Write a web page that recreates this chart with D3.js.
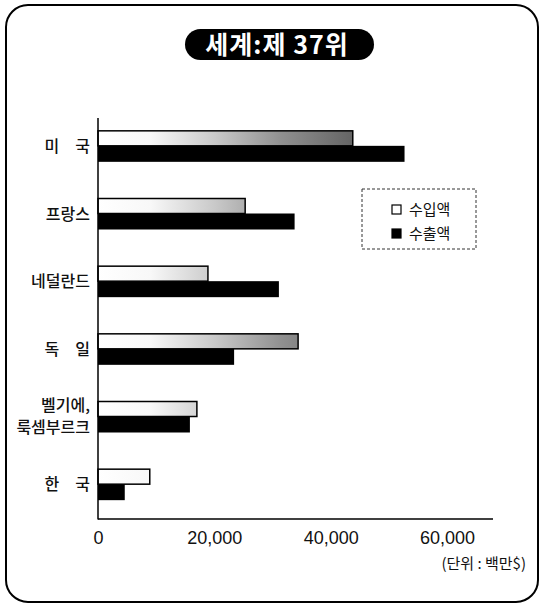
<!DOCTYPE html>
<html>
<head>
<meta charset="utf-8">
<script src="https://cdn.jsdelivr.net/npm/d3@7"></script>
<style>
  body { margin: 0; background: #fff; }
  svg { display: block; }
</style>
</head>
<body>
<svg id="chart" width="543" height="607"></svg>
<script>
// data (unit: million $)
const countries = ["미국", "프랑스", "네덜란드", "독일", "벨기에,룩셈부르크", "한국"];
const imports = [43800, 25300, 18900, 34400, 17000, 8900];   // 수입액
const exports = [52700, 33800, 31100, 23400, 15800, 4600];   // 수출액
const xTicks = [0, 20000, 40000, 60000];

const krFont = "'Noto Sans CJK KR', 'Noto Sans', sans-serif";
const numFont = "'Liberation Sans', Arial, sans-serif";

const svg = d3.select("#chart");

// gradient that mimics the speckled grey of the import bars
const defs = svg.append("defs");
const grad = defs.append("linearGradient")
  .attr("id", "importFill")
  .attr("gradientUnits", "userSpaceOnUse")
  .attr("x1", 98).attr("x2", 360).attr("y1", 0).attr("y2", 0);
[[0, "#ffffff"], [0.2, "#f8f8f8"], [0.45, "#c8c8c8"], [0.7, "#909090"], [1, "#606060"]]
  .forEach(([o, c]) => grad.append("stop").attr("offset", o).attr("stop-color", c));

// outer frame
svg.append("rect")
  .attr("x", 6).attr("y", 5).attr("width", 532).attr("height", 597)
  .attr("rx", 22).attr("ry", 22)
  .attr("fill", "none").attr("stroke", "#000").attr("stroke-width", 2);

// title pill
svg.append("rect")
  .attr("x", 185).attr("y", 29).attr("width", 189).attr("height", 31)
  .attr("rx", 15.5).attr("fill", "#000");
svg.append("text")
  .attr("x", 277).attr("y", 54)
  .attr("text-anchor", "middle")
  .attr("fill", "#fff")
  .style("font-family", krFont)
  .style("font-size", "25px")
  .style("font-weight", "bold")
  .style("letter-spacing", "1px")
  .text("세계:제 37위");

// scales
const x = d3.scaleLinear().domain([0, 60000]).range([98, 447]);
const y = d3.scaleBand().domain(countries).range([112, 518]).padding(0);
const barH = 15;

// bars
const rows = svg.append("g").selectAll("g")
  .data(countries.map((c, i) => ({ c, imp: imports[i], exp: exports[i] })))
  .join("g")
  .attr("transform", d => `translate(0,${y(d.c) + y.bandwidth() / 2 - barH})`);

rows.append("rect")
  .attr("x", x(0)).attr("y", 0)
  .attr("width", d => x(d.imp) - x(0)).attr("height", barH)
  .attr("fill", "url(#importFill)")
  .attr("stroke", "#000").attr("stroke-width", 1.5);

rows.append("rect")
  .attr("x", x(0)).attr("y", barH)
  .attr("width", d => x(d.exp) - x(0)).attr("height", barH + 1)
  .attr("fill", "#000");

// category labels
const labels = svg.append("g")
  .style("font-family", krFont)
  .style("font-size", "16px")
  .style("font-weight", "500")
  .attr("fill", "#111");

rows.each(function (d) {
  const cy = y(d.c) + y.bandwidth() / 2;
  if (d.c.includes(",")) {
    const [a, b] = d.c.split(",");
    labels.append("text").attr("x", 90).attr("y", cy - 6)
      .attr("text-anchor", "end").text(a + ",");
    labels.append("text").attr("x", 90).attr("y", cy + 16)
      .attr("text-anchor", "end").text(b);
  } else if (d.c.length === 2) {
    // two-syllable names are spread to the width of three
    labels.append("text").attr("x", 90).attr("y", cy + 6)
      .attr("text-anchor", "end").text(d.c[0] + "\u3000" + d.c[1]);
  } else {
    labels.append("text").attr("x", 90).attr("y", cy + 6)
      .attr("text-anchor", "end").text(d.c);
  }
});

// axes lines
svg.append("line")
  .attr("x1", 98).attr("x2", 98).attr("y1", 118).attr("y2", 519.5)
  .attr("stroke", "#000").attr("stroke-width", 1.5);
svg.append("line")
  .attr("x1", 98).attr("x2", 493).attr("y1", 519).attr("y2", 519)
  .attr("stroke", "#000").attr("stroke-width", 1.5);

// x tick labels
const xAxis = svg.append("g")
  .attr("transform", "translate(0,531)")
  .call(d3.axisBottom(x).tickValues(xTicks).tickSize(0).tickPadding(0)
    .tickFormat(d3.format(",")));
xAxis.select(".domain").remove();
xAxis.selectAll("text")
  .style("font-family", numFont)
  .style("font-size", "18px")
  .attr("fill", "#111");

// unit note
svg.append("text")
  .attr("x", 526).attr("y", 569)
  .attr("text-anchor", "end")
  .style("font-family", krFont)
  .style("font-size", "15px")
  .attr("fill", "#111")
  .text("(단위 : 백만$)");

// legend
const legend = svg.append("g");
legend.append("rect")
  .attr("x", 362).attr("y", 189).attr("width", 114).attr("height", 60)
  .attr("fill", "#fff").attr("stroke", "#333").attr("stroke-width", 1)
  .attr("stroke-dasharray", "3,2");
const legendItems = [["수입액", "#fff"], ["수출액", "#000"]];
legendItems.forEach(([name, fill], i) => {
  legend.append("rect")
    .attr("x", 392).attr("y", 205 + i * 24).attr("width", 9).attr("height", 9)
    .attr("fill", fill).attr("stroke", "#000").attr("stroke-width", 1.2);
  legend.append("text")
    .attr("x", 409).attr("y", 215 + i * 24)
    .style("font-family", krFont)
    .style("font-size", "15px")
    .attr("fill", "#111")
    .text(name);
});
</script>
</body>
</html>
